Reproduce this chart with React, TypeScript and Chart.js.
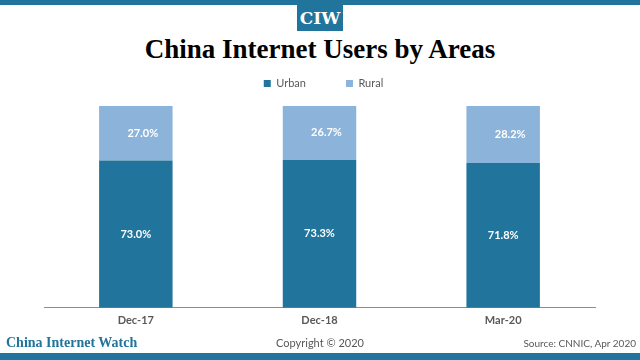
import React, { useEffect, useRef } from "react";
import { Chart, registerables } from "chart.js";

Chart.register(...registerables);

const categories = ["Dec-17", "Dec-18", "Mar-20"];
const urbanValues = [73.0, 73.3, 71.8];
const ruralValues = [27.0, 26.7, 28.2];
const seriesNames = ["Urban", "Rural"];

const DARK = "#21749b";
const LIGHT = "#8cb3d9";

const barLabels = {
  id: "barLabels",
  afterDatasetsDraw(chart: any) {
    const ctx = chart.ctx;
    ctx.save();
    ctx.fillStyle = "#ffffff";
    ctx.font = "bold 11px Lato";
    ctx.textAlign = "center";
    ctx.textBaseline = "middle";
    chart.data.datasets.forEach((ds: any, di: number) => {
      const meta = chart.getDatasetMeta(di);
      meta.data.forEach((bar: any, i: number) => {
        const v = ds.data[i];
        const y = (bar.y + bar.base) / 2;
        const dx = di === 1 ? 7 : 0;
        ctx.fillText(v.toFixed(1) + "%", bar.x + dx, y);
      });
    });
    ctx.restore();
  },
};

const legendHeight = {
  id: "legendHeight",
  beforeInit(chart: any) {
    const lg = chart.legend;
    if (!lg) return;
    const orig = lg.fit;
    lg.fit = function () {
      orig.call(this);
      this.height = 68;
      if (this.lineWidths && this.lineWidths.length) this.lineWidths[0] -= 8;
    };
  },
};

export default function App() {
  const ref = useRef<HTMLCanvasElement>(null);
  useEffect(() => {
    if (!ref.current) return;
    const chart = new Chart(ref.current, {
      type: "bar",
      data: {
        labels: categories,
        datasets: [
          { label: seriesNames[0], data: urbanValues, backgroundColor: DARK },
          { label: seriesNames[1], data: ruralValues, backgroundColor: LIGHT },
        ],
      },
      options: {
        animation: false,
        responsive: false,
        layout: { padding: { top: 38, left: 44, right: 45, bottom: 27 } },
        datasets: { bar: { barPercentage: 0.5, categoryPercentage: 0.8 } },
        scales: {
          x: {
            stacked: true,
            grid: { display: false, drawTicks: false },
            border: { display: true, color: "#8c8c8c", width: 1 },
            ticks: { color: "#595959", padding: 6, font: { family: "Lato", size: 11, weight: "bold" } },
          },
          y: { stacked: true, display: false, min: 0, max: 100 },
        },
        plugins: {
          legend: {
            position: "top",
            labels: {
              boxWidth: 7,
              boxHeight: 7,
              padding: 40,
              color: "#595959",
              font: { family: "Lato", size: 11 },
            },
          },
          tooltip: { enabled: false },
        },
      },
      plugins: [barLabels, legendHeight],
    });
    return () => chart.destroy();
  }, []);

  return (
    <div style={{ position: "fixed", left: 0, top: 0, width: 640, height: 360, background: "#fff", overflow: "hidden" }}>
      <div style={{ position: "absolute", left: 0, top: 0, width: 640, height: 5, background: DARK }} />
      <div
        style={{
          position: "absolute", left: 297, top: 5, width: 46, height: 26, background: DARK,
          color: "#fff", fontFamily: "'DejaVu Serif', serif", fontWeight: "bold", fontSize: 17,
          lineHeight: "26px", textAlign: "center",
        }}
      >
        CIW
      </div>
      <div
        style={{
          position: "absolute", left: 0, top: 32, width: 640, textAlign: "center",
          fontFamily: "'Liberation Serif', serif", fontWeight: "bold", fontSize: 27, color: "#000", lineHeight: "34px",
        }}
      >
        China Internet Users by Areas
      </div>
      <canvas ref={ref} width={640} height={360} style={{ position: "absolute", left: 0, top: 0 }} />
      <div
        style={{
          position: "absolute", left: 6, top: 334, fontFamily: "'Liberation Serif', serif", fontWeight: "bold",
          fontSize: 14, color: DARK, lineHeight: "18px",
        }}
      >
        China Internet Watch
      </div>
      <div
        style={{
          position: "absolute", left: 0, width: 640, top: 336, textAlign: "center", fontFamily: "Lato",
          fontSize: 11, color: "#595959", lineHeight: "14px",
        }}
      >
        Copyright © 2020
      </div>
      <div
        style={{
          position: "absolute", right: 4, top: 336, textAlign: "right", fontFamily: "Lato",
          fontSize: 10, color: "#595959", lineHeight: "14px",
        }}
      >
        Source: CNNIC, Apr 2020
      </div>
      <div style={{ position: "absolute", left: 0, top: 353, width: 640, height: 7, background: DARK }} />
    </div>
  );
}
